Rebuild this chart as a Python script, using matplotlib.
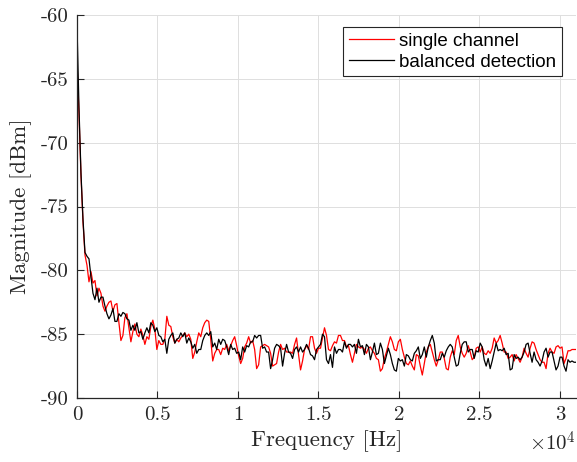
import matplotlib
matplotlib.use('Agg')
import matplotlib.pyplot as plt
import numpy as np

plt.rcParams['mathtext.fontset'] = 'cm'
plt.rcParams['axes.unicode_minus'] = False

# Frequency grid (Hz)
freq = np.linspace(0, 31000, 251)

single_channel = [
    -63.6, -67.8, -72.6, -76.2, -78.8, -79.6, -80.9, -80.1, -81.0, -80.8,
    -82.0, -81.4, -81.8, -82.8, -83.2, -82.8, -82.5, -82.4, -83.2, -82.7,
    -82.6, -84.1, -85.5, -85.1, -83.7, -83.4, -84.5, -85.6, -84.8, -84.2,
    -85.0, -85.2, -84.6, -85.1, -85.8, -85.2, -85.4, -84.4, -83.9, -84.6,
    -86.2, -85.5, -85.8, -85.8, -85.4, -83.6, -84.3, -84.4, -85.2, -85.7,
    -85.4, -85.6, -85.3, -85.1, -84.9, -85.2, -85.0, -85.4, -86.9, -86.4,
    -85.6, -84.9, -85.2, -84.5, -84.1, -83.9, -84.0, -85.4, -87.1, -86.5,
    -86.2, -86.2, -86.6, -86.1, -86.2, -85.8, -86.3, -85.9, -85.5, -85.2,
    -85.9, -86.7, -87.3, -86.9, -86.0, -85.7, -85.2, -85.7, -85.5, -86.2,
    -87.7, -87.4, -86.0, -85.9, -85.8, -85.9, -86.0, -86.5, -87.5, -87.4,
    -87.3, -86.4, -85.8, -86.2, -86.1, -86.4, -86.4, -86.4, -86.5, -85.8,
    -85.3, -86.6, -87.8, -87.1, -86.2, -85.9, -86.2, -85.2, -85.2, -86.1,
    -86.5, -86.1, -86.1, -85.3, -84.5, -85.1, -86.2, -86.3, -85.9, -85.6,
    -85.7, -85.1, -85.1, -85.5, -85.5, -86.0, -85.9, -86.6, -87.2, -86.5,
    -85.8, -86.0, -86.1, -86.0, -86.2, -86.5, -86.1, -86.0, -86.3, -86.5,
    -86.9, -87.0, -87.9, -87.7, -86.9, -86.4, -85.8, -85.2, -85.6, -86.2,
    -86.3, -85.6, -85.4, -86.2, -86.8, -87.3, -87.4, -87.1, -87.5, -87.8,
    -86.6, -86.7, -87.5, -88.2, -87.3, -86.4, -86.0, -85.8, -86.4, -87.0,
    -87.5, -87.0, -86.4, -86.4, -86.9, -87.7, -87.8, -86.8, -86.3, -86.6,
    -85.5, -85.1, -86.0, -86.5, -86.8, -86.5, -85.9, -86.4, -87.0, -86.8,
    -86.1, -86.0, -86.4, -86.0, -86.5, -86.6, -86.3, -86.5, -86.1, -85.3,
    -85.7, -85.5, -85.1, -85.7, -86.4, -86.4, -86.9, -86.8, -86.6, -87.1,
    -86.6, -86.9, -87.2, -86.8, -86.1, -86.5, -86.8, -86.1, -85.6, -85.7,
    -86.2, -86.6, -87.0, -87.2, -87.2, -87.7, -86.5, -86.1, -86.4, -86.5,
    -86.0, -85.9, -86.1, -86.0, -87.3, -86.9, -86.3, -86.3, -86.2, -86.2,
    -86.2,
]

balanced_detection = [
    -60.8, -67.3, -72.4, -76.0, -78.6, -78.9, -79.1, -80.5, -81.8, -82.3,
    -81.4, -82.5, -82.1, -82.1, -82.8, -83.4, -83.8, -83.5, -83.0, -84.0,
    -84.0, -83.4, -83.6, -83.3, -83.4, -83.8, -83.9, -84.7, -84.3, -84.7,
    -84.1, -84.9, -84.8, -85.4, -84.9, -84.5, -84.9, -84.1, -84.3, -84.8,
    -84.5, -85.1, -85.2, -85.6, -85.4, -86.5, -85.4, -85.1, -84.9, -85.7,
    -85.4, -85.3, -84.9, -85.2, -84.9, -85.7, -85.3, -85.6, -86.1, -85.8,
    -86.5, -86.2, -86.2, -85.5, -85.1, -84.9, -85.1, -84.8, -86.0, -85.7,
    -86.2, -85.4, -85.8, -85.4, -85.5, -86.0, -86.6, -85.8, -86.2, -86.1,
    -86.5, -86.4, -87.0, -86.0, -86.4, -85.9, -86.0, -85.6, -85.6, -85.1,
    -85.3, -85.1, -85.1, -86.1, -86.0, -86.4, -86.4, -87.7, -87.0, -86.1,
    -85.8, -85.9, -86.1, -87.5, -86.5, -85.8, -86.4, -86.5, -86.9, -86.2,
    -86.0, -86.4, -86.0, -86.4, -86.2, -85.8, -86.1, -86.6, -86.7, -87.0,
    -86.2, -86.0, -85.8, -85.0, -85.2, -87.0, -87.3, -86.6, -87.6, -86.0,
    -86.5, -86.2, -86.2, -86.4, -85.6, -86.1, -85.8, -85.8, -86.0, -85.8,
    -86.5, -85.4, -86.0, -85.9, -86.6, -85.8, -86.0, -87.0, -86.4, -85.7,
    -86.6, -86.5, -85.7, -86.2, -87.3, -86.7, -86.1, -86.6, -87.3, -87.8,
    -87.9, -86.9, -87.1, -87.0, -87.5, -86.6, -86.7, -87.0, -87.1, -86.5,
    -86.3, -86.0, -86.9, -86.6, -86.0, -86.8, -86.0, -85.5, -85.1, -85.7,
    -87.1, -87.0, -87.0, -86.5, -86.8, -86.3, -86.0, -85.8, -86.0, -86.8,
    -87.5, -87.4, -86.5, -85.8, -85.6, -85.6, -86.4, -86.2, -86.2, -86.9,
    -86.3, -86.4, -85.7, -86.0, -87.0, -87.5, -86.9, -87.7, -87.1, -86.4,
    -85.7, -86.3, -86.2, -86.3, -86.1, -86.6, -86.5, -87.8, -87.7, -86.6,
    -86.9, -86.8, -87.0, -86.8, -86.4, -85.8, -85.7, -86.5, -87.2, -86.4,
    -87.0, -87.2, -87.5, -87.1, -86.4, -86.1, -86.8, -86.4, -86.4, -87.1,
    -87.8, -87.5, -86.8, -86.8, -87.5, -87.9, -87.0, -87.2, -87.1, -87.2,
    -87.2,
]

series_labels = ['single channel', 'balanced detection']
x_ticks = [0, 5000, 10000, 15000, 20000, 25000, 30000]
x_tick_labels = ['0', '0.5', '1', '1.5', '2', '2.5', '3']
y_ticks = [-90, -85, -80, -75, -70, -65, -60]
y_tick_labels = ['-90', '-85', '-80', '-75', '-70', '-65', '-60']

W, H = 577, 462
fig = plt.figure(figsize=(W / 100, H / 100), dpi=100)
ax = fig.add_axes([77 / W, 1 - 398 / H, 499 / W, 383 / H])

axis_col = '#262626'
ax.plot(freq, single_channel, color='#ff0000', lw=0.9, label=series_labels[0])
ax.plot(freq, balanced_detection, color='#000000', lw=0.9, label=series_labels[1])

ax.set_xlim(0, 31000)
ax.set_ylim(-90, -60)
ax.set_xticks(x_ticks)
ax.set_xticklabels(x_tick_labels, family='cmr10')
ax.set_yticks(y_ticks)
ax.set_yticklabels(y_tick_labels, family='cmr10')
ax.tick_params(direction='in', length=5, width=0.8, colors=axis_col,
               labelsize=15, pad=6)

ax.grid(True, color='#dedede', lw=0.7)
ax.set_axisbelow(True)
for s in ['top', 'right']:
    ax.spines[s].set_visible(False)
for s in ['left', 'bottom']:
    ax.spines[s].set_color(axis_col)
    ax.spines[s].set_linewidth(0.9)

ax.set_xlabel('Frequency [Hz]', family='cmr10', fontsize=16.5, color=axis_col, labelpad=4)
ax.set_ylabel('Magnitude [dBm]', family='cmr10', fontsize=16.5, color=axis_col, labelpad=6)
ax.text(1.0, -0.085, r'$\times10^{4}$', transform=ax.transAxes, ha='right', va='top',
        fontsize=15, color=axis_col)

leg = ax.legend(loc='upper right', bbox_to_anchor=((562 - 77) / 499, (398 - 27) / 383),
                borderaxespad=0, fancybox=False, framealpha=1, edgecolor=axis_col,
                prop={'family': 'Liberation Sans', 'size': 13.5},
                handlelength=2.4, handletextpad=0.3, labelspacing=0.2, borderpad=0.3)
leg.get_frame().set_linewidth(0.8)

fig.savefig('out.png', dpi=100)
